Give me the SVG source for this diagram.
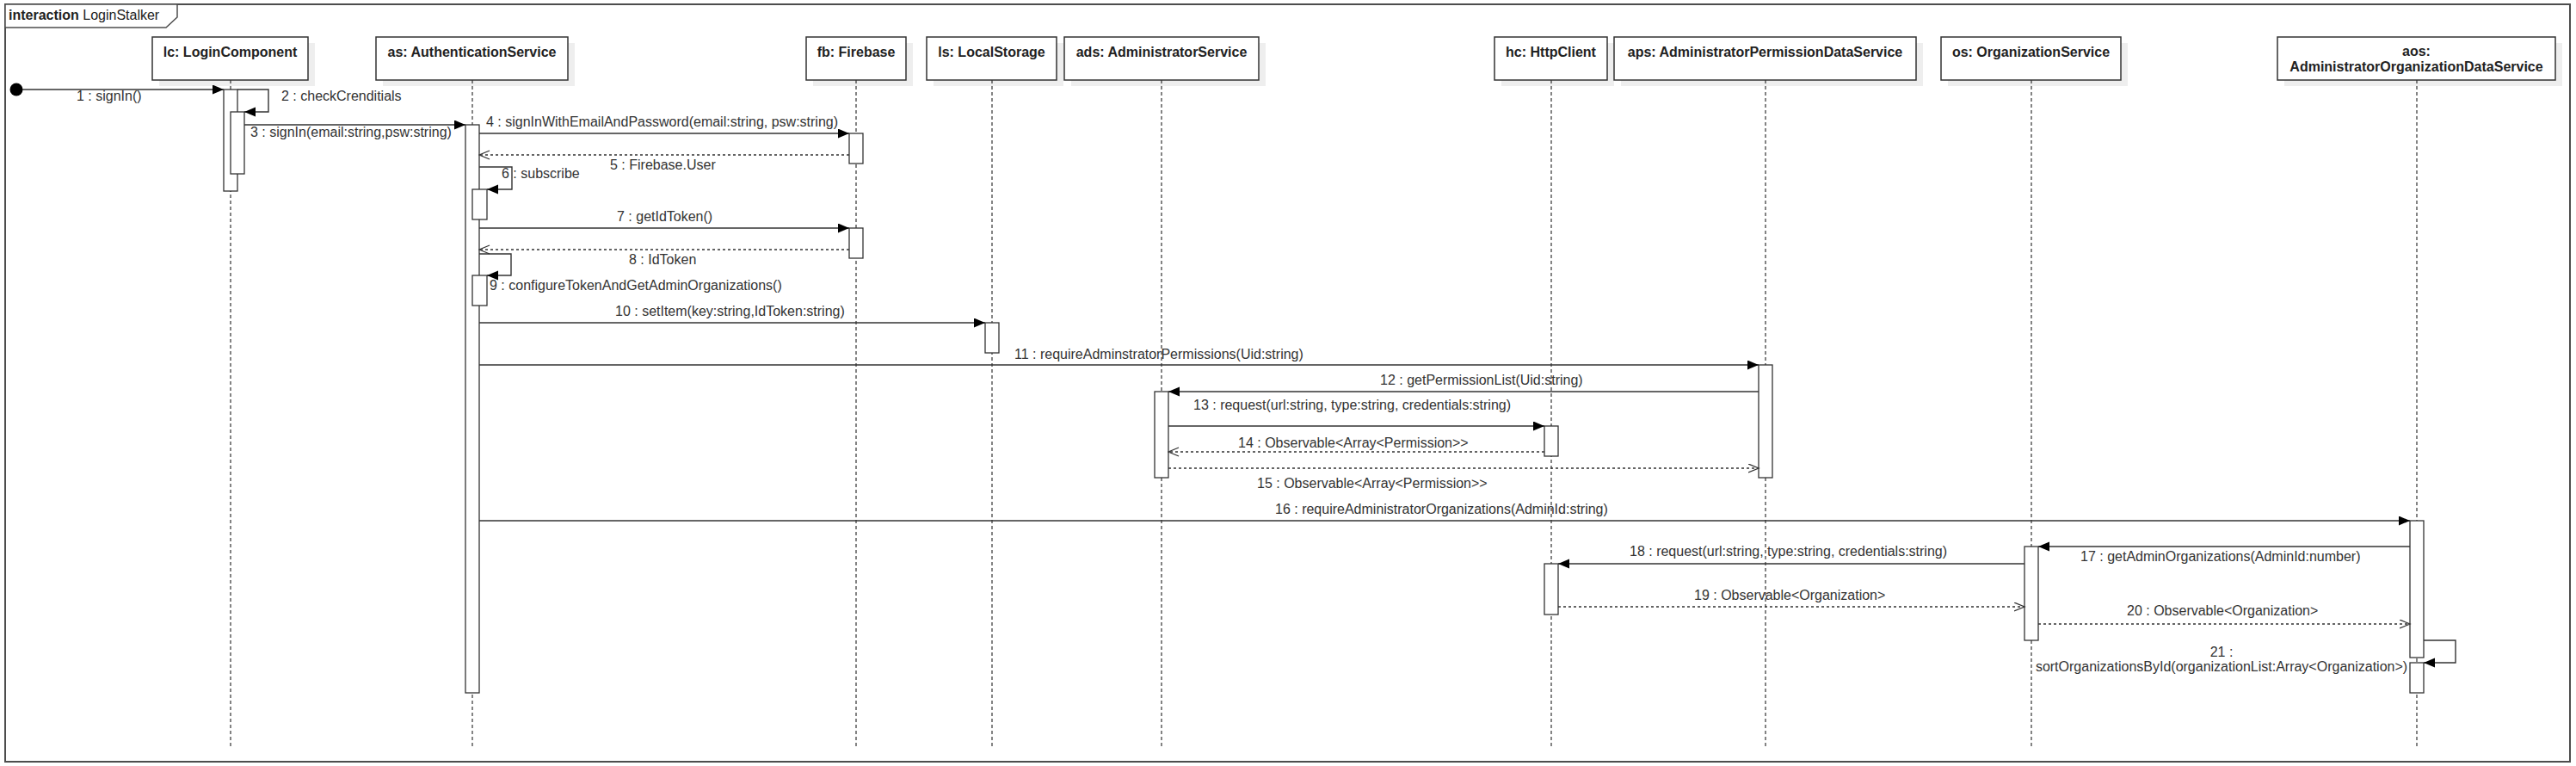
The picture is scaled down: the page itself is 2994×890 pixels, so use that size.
<svg xmlns="http://www.w3.org/2000/svg" width="2994" height="890" viewBox="0 0 2994 890">
<style>
text{font-family:"Liberation Sans",Arial,sans-serif;font-size:16px;fill:#222}
.hdr{font-weight:bold;text-anchor:middle}
.box{fill:#fff;stroke:#333;stroke-width:1.5}
.shadow{fill:#eeeeee;stroke:none}
.life{stroke:#333;stroke-width:1.2;stroke-dasharray:4 3;fill:none}
.bar{fill:#fff;stroke:#333;stroke-width:1.3}
.msg{stroke:#333;stroke-width:1.4;fill:none;marker-end:url(#filled)}
.ret{stroke:#333;stroke-width:1.4;fill:none;stroke-dasharray:3 3;marker-end:url(#open)}
.lbl{fill:#333}
</style>
<defs>
<marker id="filled" markerUnits="userSpaceOnUse" markerWidth="14" markerHeight="12" refX="13" refY="5.5" orient="auto">
<path d="M0,0 L13,5.5 L0,11 Z" fill="#000" stroke="none"/>
</marker>
<marker id="open" markerUnits="userSpaceOnUse" markerWidth="14" markerHeight="12" refX="12.5" refY="5.5" orient="auto">
<path d="M0.5,0.5 L12.5,5.5 L0.5,10.5" fill="none" stroke="#333" stroke-width="1.3"/>
</marker>
</defs>
<rect x="0" y="0" width="2994" height="890" fill="#fff"/>
<g id="frame">
<rect x="6" y="5" width="2981" height="880" fill="none" stroke="#4d4d4d" stroke-width="2"/>
<path d="M6,5 L206,5 L206,20 L193,32 L6,32 Z" fill="#fff" stroke="#4d4d4d" stroke-width="1.5"/>
<text x="10" y="23"><tspan font-weight="bold">interaction</tspan> LoginStalker</text>
</g>
<g id="lc">
<rect class="shadow" x="185" y="50" width="181" height="50"/>
<rect class="box" x="177" y="43" width="181" height="50"/>
<text class="hdr" x="267.5" y="66">lc: LoginComponent</text>
<line class="life" x1="268" y1="93" x2="268" y2="870"/>
<rect class="bar" x="260" y="104" width="16" height="118"/>
<rect class="bar" x="268" y="130" width="16" height="72"/>
</g>
<g id="as">
<rect class="shadow" x="445" y="50" width="223" height="50"/>
<rect class="box" x="437" y="43" width="223" height="50"/>
<text class="hdr" x="548.5" y="66">as: AuthenticationService</text>
<line class="life" x1="549" y1="93" x2="549" y2="870"/>
<rect class="bar" x="541" y="145" width="16" height="660"/>
<rect class="bar" x="549" y="220" width="17" height="35"/>
<rect class="bar" x="549" y="320" width="17" height="35"/>
</g>
<g id="fb">
<rect class="shadow" x="945" y="50" width="116" height="50"/>
<rect class="box" x="937" y="43" width="116" height="50"/>
<text class="hdr" x="995" y="66">fb: Firebase</text>
<line class="life" x1="995" y1="93" x2="995" y2="870"/>
<rect class="bar" x="987" y="155" width="16" height="35"/>
<rect class="bar" x="987" y="265" width="16" height="35"/>
</g>
<g id="ls">
<rect class="shadow" x="1085" y="50" width="151" height="50"/>
<rect class="box" x="1077" y="43" width="151" height="50"/>
<text class="hdr" x="1152.5" y="66">ls: LocalStorage</text>
<line class="life" x1="1153" y1="93" x2="1153" y2="870"/>
<rect class="bar" x="1145" y="375" width="16" height="35"/>
</g>
<g id="ads">
<rect class="shadow" x="1245" y="50" width="226" height="50"/>
<rect class="box" x="1237" y="43" width="226" height="50"/>
<text class="hdr" x="1350" y="66">ads: AdministratorService</text>
<line class="life" x1="1350" y1="93" x2="1350" y2="870"/>
<rect class="bar" x="1342" y="455" width="16" height="100"/>
</g>
<g id="hc">
<rect class="shadow" x="1745" y="50" width="131" height="50"/>
<rect class="box" x="1737" y="43" width="131" height="50"/>
<text class="hdr" x="1802.5" y="66">hc: HttpClient</text>
<line class="life" x1="1803" y1="93" x2="1803" y2="870"/>
<rect class="bar" x="1795" y="495" width="16" height="35"/>
<rect class="bar" x="1795" y="655" width="16" height="59"/>
</g>
<g id="aps">
<rect class="shadow" x="1884" y="50" width="351" height="50"/>
<rect class="box" x="1876" y="43" width="351" height="50"/>
<text class="hdr" x="2051.5" y="66">aps: AdministratorPermissionDataService</text>
<line class="life" x1="2052" y1="93" x2="2052" y2="870"/>
<rect class="bar" x="2044" y="424" width="16" height="131"/>
</g>
<g id="os">
<rect class="shadow" x="2264" y="50" width="209" height="50"/>
<rect class="box" x="2256" y="43" width="209" height="50"/>
<text class="hdr" x="2360.5" y="66">os: OrganizationService</text>
<line class="life" x1="2361" y1="93" x2="2361" y2="870"/>
<rect class="bar" x="2353" y="635" width="16" height="109"/>
</g>
<g id="aos">
<rect class="shadow" x="2655" y="50" width="323" height="50"/>
<rect class="box" x="2647" y="43" width="323" height="50"/>
<text class="hdr" x="2808.5" y="65">aos:</text>
<text class="hdr" x="2808.5" y="83">AdministratorOrganizationDataService</text>
<line class="life" x1="2809" y1="93" x2="2809" y2="870"/>
<rect class="bar" x="2801" y="605" width="16" height="159"/>
<rect class="bar" x="2801" y="770" width="16" height="35"/>
</g>
<g id="connectors">
<circle cx="19" cy="104" r="7.5" fill="#000"/>
<line class="msg" x1="26" y1="104" x2="260" y2="104"/>
<text class="lbl" x="89" y="117">1 : signIn()</text>
<path class="msg" d="M276,104 L312,104 L312,130 L284,130"/>
<text class="lbl" x="327" y="117">2 : checkCrenditials</text>
<line class="msg" x1="284" y1="145" x2="541" y2="145"/>
<text class="lbl" x="291" y="159">3 : signIn(email:string,psw:string)</text>
<line class="msg" x1="557" y1="155" x2="987" y2="155"/>
<text class="lbl" x="565" y="147">4 : signInWithEmailAndPassword(email:string, psw:string)</text>
<line class="ret" x1="987" y1="180" x2="557" y2="180"/>
<text class="lbl" x="709" y="197">5 : Firebase.User</text>
<path class="msg" d="M557,194 L595,194 L595,220 L566,220"/>
<text class="lbl" x="583" y="207">6 : subscribe</text>
<line class="msg" x1="557" y1="265" x2="987" y2="265"/>
<text class="lbl" x="717" y="257">7 : getIdToken()</text>
<line class="ret" x1="987" y1="290" x2="557" y2="290"/>
<text class="lbl" x="731" y="307">8 : IdToken</text>
<path class="msg" d="M557,295 L594,295 L594,320 L566,320"/>
<text class="lbl" x="569" y="337">9 : configureTokenAndGetAdminOrganizations()</text>
<line class="msg" x1="557" y1="375" x2="1145" y2="375"/>
<text class="lbl" x="715" y="367">10 : setItem(key:string,IdToken:string)</text>
<line class="msg" x1="557" y1="424" x2="2044" y2="424"/>
<text class="lbl" x="1179" y="417">11 : requireAdminstratorPermissions(Uid:string)</text>
<line class="msg" x1="2044" y1="455" x2="1358" y2="455"/>
<text class="lbl" x="1604" y="447">12 : getPermissionList(Uid:string)</text>
<line class="msg" x1="1358" y1="495" x2="1795" y2="495"/>
<text class="lbl" x="1387" y="476">13 : request(url:string, type:string, credentials:string)</text>
<line class="ret" x1="1795" y1="525" x2="1358" y2="525"/>
<text class="lbl" x="1439" y="520">14 : Observable&lt;Array&lt;Permission&gt;&gt;</text>
<line class="ret" x1="1358" y1="544" x2="2044" y2="544"/>
<text class="lbl" x="1461" y="567">15 : Observable&lt;Array&lt;Permission&gt;&gt;</text>
<line class="msg" x1="557" y1="605" x2="2801" y2="605"/>
<text class="lbl" x="1482" y="597">16 : requireAdministratorOrganizations(AdminId:string)</text>
<line class="msg" x1="2801" y1="635" x2="2369" y2="635"/>
<text class="lbl" x="2418" y="652">17 : getAdminOrganizations(AdminId:number)</text>
<line class="msg" x1="2353" y1="655" x2="1811" y2="655"/>
<text class="lbl" x="1894" y="646">18 : request(url:string, type:string, credentials:string)</text>
<line class="ret" x1="1811" y1="705" x2="2353" y2="705"/>
<text class="lbl" x="1969" y="697">19 : Observable&lt;Organization&gt;</text>
<line class="ret" x1="2369" y1="725" x2="2801" y2="725"/>
<text class="lbl" x="2472" y="715">20 : Observable&lt;Organization&gt;</text>
<path class="msg" d="M2817,744 L2854,744 L2854,770 L2817,770"/>
<text class="lbl" x="2582" y="763" text-anchor="middle">21 :</text>
<text class="lbl" x="2582" y="780" text-anchor="middle">sortOrganizationsById(organizationList:Array&lt;Organization&gt;)</text>
</g>
</svg>
